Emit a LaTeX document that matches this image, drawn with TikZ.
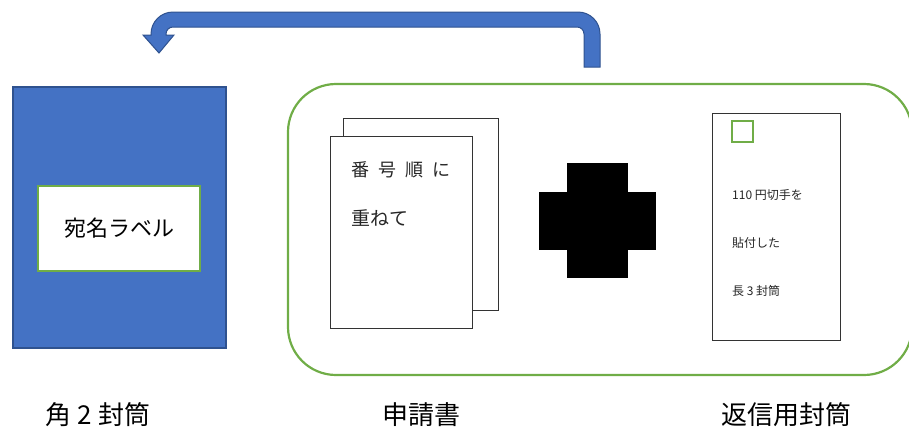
\documentclass[tikz,border=0pt]{standalone}
\usepackage{fontspec}
\setmainfont{Noto Sans CJK JP}
\definecolor{blueF}{HTML}{4472C4}
\definecolor{blueD}{HTML}{2F528F}
\definecolor{greenL}{HTML}{70AD47}
\begin{document}
\begin{tikzpicture}[x=1pt,y=-1pt,
  env/.style={draw=blueD,fill=blueF,line width=1.2pt},
  lab/.style={draw=greenL,fill=white,line width=2pt},
  paper/.style={draw=black!80,fill=white,line width=1pt},
  captext/.style={font=\fontsize{26}{30}\selectfont,anchor=center,inner sep=0pt},
  small/.style={font=\fontsize{12}{14}\selectfont,anchor=west,inner sep=0pt,text=black!85}]
\useasboundingbox (0,0) rectangle (909,429);
% bent arrow
\draw[env,line width=1pt] (600,67) [rounded corners=22pt] -- (600,12) -- (151,12) [sharp corners] -- (151,35) -- (143,35) -- (159,53) -- (174,35) -- (166,35) [rounded corners=7pt] -- (166,27) -- (584,27) [sharp corners] -- (584,67) -- cycle;
% large envelope
\node[env,minimum width=213pt,minimum height=261pt,inner sep=0pt] (kaku) at (119.5,217.5) {};
\node[lab,minimum width=162pt,minimum height=85pt,inner sep=0pt,font=\fontsize{22}{24}\selectfont] (label) at (119,228.5) {宛名ラベル};
% group
\draw[draw=greenL,line width=2.2pt,rounded corners=48pt] (288,84) rectangle (912,375);
% papers
\node[paper,minimum width=155pt,minimum height=192pt,inner sep=0pt] (back) at (420.5,214) {};
\node[paper,minimum width=142pt,minimum height=192pt,inner sep=0pt] (front) at (401,232) {};
\node[anchor=west,inner sep=0pt,font=\fontsize{18}{20}\selectfont,text=black!85] (t1) at (351,170) {番\hspace{9pt}号\hspace{9pt}順\hspace{9pt}に};
\node[anchor=west,inner sep=0pt,font=\fontsize{19}{20}\selectfont,text=black!85] (t2) at (351,218) {重ねて};
% plus
\fill[black] (567,163) rectangle (628,278);
\fill[black] (539,192) rectangle (656,250);
% return envelope
\node[paper,minimum width=128pt,minimum height=227pt,inner sep=0pt] (ret) at (776,226.5) {};
\node[draw=greenL,line width=2pt,minimum width=21pt,minimum height=21pt,inner sep=0pt] (stamp) at (742,131.5) {};
\node[small] (r1) at (732,195) {110 円切手を};
\node[small] (r2) at (732,243) {貼付した};
\node[small] (r3) at (732,291) {長 3 封筒};
% captions
\node[captext] (c1) at (98,415) {角 2 封筒};
\node[captext] (c2) at (421,415) {申請書};
\node[captext] (c3) at (786,415) {返信用封筒};
\end{tikzpicture}
\end{document}
